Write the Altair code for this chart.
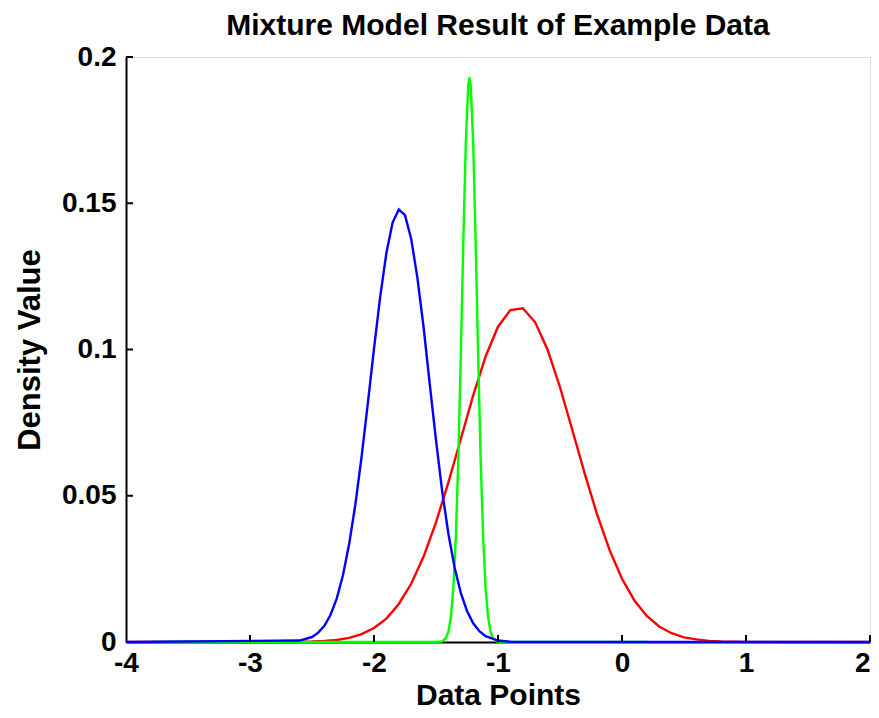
import altair as alt
import pandas as pd

# ---- data ----
red_x = [-4.0, -2.7, -2.6, -2.5, -2.4, -2.3, -2.2, -2.1, -2.0, -1.9, -1.8, -1.7, -1.6, -1.5,
         -1.4, -1.3, -1.2, -1.1, -1.0, -0.9, -0.8, -0.7, -0.6, -0.5, -0.4, -0.3, -0.2,
         -0.1, 0.0, 0.1, 0.2, 0.3, 0.4, 0.5, 0.6, 0.7, 0.8, 1.0, 2.0]
red_y = [0.0, 0.0000, 0.0001, 0.0002, 0.0004, 0.0007, 0.0014, 0.0027, 0.0048, 0.0080, 0.0130,
         0.0199, 0.0292, 0.0409, 0.0546, 0.0694, 0.0843, 0.0976, 0.1078, 0.1135, 0.1141,
         0.1093, 0.0999, 0.0871, 0.0724, 0.0575, 0.0435, 0.0314, 0.0216, 0.0142, 0.0089,
         0.0053, 0.0030, 0.0016, 0.0009, 0.0004, 0.0002, 0.0, 0.0]

blue_x = [-4.0, -2.6, -2.5, -2.45, -2.4, -2.35, -2.3, -2.25, -2.2, -2.15, -2.1, -2.05, -2.0,
          -1.95, -1.9, -1.85, -1.8, -1.75, -1.7, -1.65, -1.6, -1.55, -1.5, -1.45, -1.4,
          -1.35, -1.3, -1.25, -1.2, -1.15, -1.1, -1.0, -0.9, 2.0]
blue_y = [0.0, 0.0005, 0.0017, 0.0032, 0.0055, 0.0093, 0.0149, 0.0229, 0.0336, 0.0471, 0.0634,
          0.0815, 0.1003, 0.1181, 0.1330, 0.1434, 0.1479, 0.1459, 0.1378, 0.1245, 0.1076,
          0.0880, 0.0690, 0.0515, 0.0370, 0.0255, 0.0168, 0.0106, 0.0064, 0.0037, 0.0020,
          0.0005, 0.0001, 0.0]

green_x = [-3.79, -1.5, -1.45, -1.42, -1.40, -1.38, -1.36, -1.34, -1.32, -1.30, -1.28, -1.26,
           -1.24, -1.23, -1.22, -1.20, -1.18, -1.16, -1.14, -1.12, -1.10, -1.08, -1.06,
           -1.04, -1.01, -0.95, 0.2]
green_y = [0.0, 0.0, 0.0002, 0.0013, 0.0035, 0.0085, 0.0185, 0.0359, 0.0627, 0.0977, 0.1364,
           0.1703, 0.1903, 0.1930, 0.1903, 0.1703, 0.1364, 0.0977, 0.0627, 0.0359, 0.0185,
           0.0085, 0.0035, 0.0013, 0.0002, 0.0, 0.0]

x_labels = [-4, -3, -2, -1, 0, 1, 2]
y_labels = [0, 0.05, 0.1, 0.15, 0.2]
x_ticks = [-3, -2, -1, 0, 1, 2]
y_ticks = [0.05, 0.1, 0.15, 0.2]

W, H = 744, 585
FONT = "Liberation Sans"

x_scale = alt.Scale(domain=[-4, 2], nice=False, zero=False)
y_scale = alt.Scale(domain=[0, 0.2], nice=False, zero=False)

x_axis = alt.Axis(title="Data Points", values=x_labels, ticks=False, grid=False,
                  domainColor="black", domainWidth=2, labelFont=FONT, labelFontSize=28,
                  labelFontWeight="bold", labelColor="black", labelPadding=7,
                  labelExpr="datum.value < 0 ? '-' + abs(datum.value) : '' + datum.value",
                  labelAlign=alt.ExprRef(expr="datum.value == 2 ? 'right' : 'center'"),
                  titleFont=FONT, titleFontSize=30, titleFontWeight="bold", titleColor="black",
                  titlePadding=3, labelFlush=False, labelOverlap=False)
y_axis = alt.Axis(title="Density Value", values=y_labels, ticks=False, grid=False,
                  domainColor="black", domainWidth=2, labelFont=FONT, labelFontSize=28,
                  labelFontWeight="bold", labelColor="black", labelPadding=10,
                  labelExpr="datum.value == 0 ? '0' : '' + datum.value",
                  titleFont=FONT, titleFontSize=31, titleFontWeight="bold", titleColor="black",
                  titlePadding=15, labelFlush=False, labelOverlap=False)


def curve(xs, ys, color):
    df = pd.DataFrame({"x": xs, "y": ys})
    return alt.Chart(df).mark_line(color=color, strokeWidth=2.4, interpolate="linear").encode(
        x=alt.X("x:Q", scale=x_scale, axis=x_axis),
        y=alt.Y("y:Q", scale=y_scale, axis=y_axis),
        order="x:Q")


red = curve(red_x, red_y, "#ff0000")
green = curve(green_x, green_y, "#00ff00")
blue = curve(blue_x, blue_y, "#0000ff")

xt = alt.Chart(pd.DataFrame({"x": x_ticks})).mark_rule(color="black", strokeWidth=2).encode(
    x=alt.X("x:Q", scale=x_scale, axis=x_axis), y=alt.value(H), y2=alt.value(H - 7))
yt = alt.Chart(pd.DataFrame({"y": y_ticks})).mark_rule(color="black", strokeWidth=2).encode(
    y=alt.Y("y:Q", scale=y_scale, axis=y_axis), x=alt.value(0), x2=alt.value(7))

chart = alt.layer(red, green, blue, xt, yt).properties(
    width=W, height=H,
    title=alt.TitleParams("Mixture Model Result of Example Data", font=FONT, fontSize=30,
                          fontWeight="bold", color="black", offset=2, anchor="middle"),
    autosize=alt.AutoSizeParams(type="none"),
    padding={"left": 118, "top": 49, "right": 1, "bottom": 68},
).configure_view(strokeWidth=0, stroke="transparent").configure(background="white")

chart.save("out.html", embed_options={"renderer": "svg", "actions": False})
